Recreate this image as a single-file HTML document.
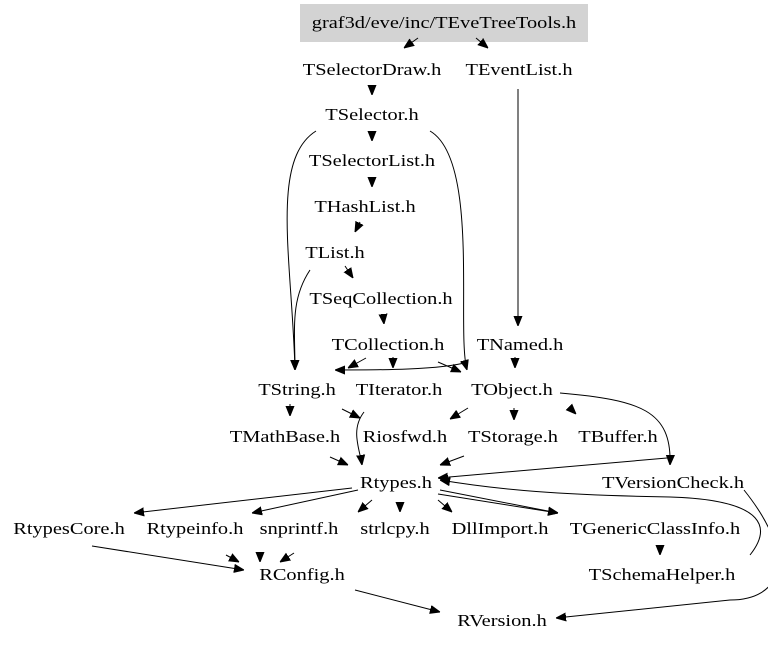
<!DOCTYPE html>
<html><head><meta charset="utf-8"><style>
html,body{margin:0;padding:0;background:#fff;width:768px;height:645px;overflow:hidden}
text{font-family:"Liberation Serif",serif;font-size:17px;fill:#000;text-anchor:middle}
path{fill:none;stroke:#000;stroke-width:1}
</style></head><body>
<svg width="768" height="645" viewBox="0 0 768 645" xmlns="http://www.w3.org/2000/svg">
<defs><marker id="a" viewBox="0 0 10 10" refX="10" refY="5" markerWidth="10" markerHeight="10" markerUnits="userSpaceOnUse" orient="auto"><path d="M0,1 L10,5 L0,9 Z" style="fill:#000;stroke:#000"/></marker></defs>
<rect x="300" y="4" width="288" height="38" fill="#d3d3d3"/>
<text transform="translate(444,28) scale(1.2,1)">graf3d/eve/inc/TEveTreeTools.h</text>
<text transform="translate(372,75) scale(1.2,1)">TSelectorDraw.h</text>
<text transform="translate(519,75) scale(1.2,1)">TEventList.h</text>
<text transform="translate(372,120) scale(1.2,1)">TSelector.h</text>
<text transform="translate(372,166) scale(1.2,1)">TSelectorList.h</text>
<text transform="translate(365,212) scale(1.2,1)">THashList.h</text>
<text transform="translate(335,258) scale(1.2,1)">TList.h</text>
<text transform="translate(381,304) scale(1.2,1)">TSeqCollection.h</text>
<text transform="translate(388,350) scale(1.2,1)">TCollection.h</text>
<text transform="translate(520,350) scale(1.2,1)">TNamed.h</text>
<text transform="translate(297,395) scale(1.2,1)">TString.h</text>
<text transform="translate(399,395) scale(1.2,1)">TIterator.h</text>
<text transform="translate(512,395) scale(1.2,1)">TObject.h</text>
<text transform="translate(285,442) scale(1.2,1)">TMathBase.h</text>
<text transform="translate(405,442) scale(1.2,1)">Riosfwd.h</text>
<text transform="translate(513,442) scale(1.2,1)">TStorage.h</text>
<text transform="translate(618,442) scale(1.2,1)">TBuffer.h</text>
<text transform="translate(396,488) scale(1.2,1)">Rtypes.h</text>
<text transform="translate(673,488) scale(1.2,1)">TVersionCheck.h</text>
<text transform="translate(69,534) scale(1.2,1)">RtypesCore.h</text>
<text transform="translate(195,534) scale(1.2,1)">Rtypeinfo.h</text>
<text transform="translate(299,534) scale(1.2,1)">snprintf.h</text>
<text transform="translate(395,534) scale(1.2,1)">strlcpy.h</text>
<text transform="translate(500,534) scale(1.2,1)">DllImport.h</text>
<text transform="translate(655,534) scale(1.2,1)">TGenericClassInfo.h</text>
<text transform="translate(302,580) scale(1.2,1)">RConfig.h</text>
<text transform="translate(662,580) scale(1.2,1)">TSchemaHelper.h</text>
<text transform="translate(502,626) scale(1.2,1)">RVersion.h</text>
<g marker-end="url(#a)">
<path d="M418,38 L404,48"/>
<path d="M476,38 L488,48"/>
<path d="M372,86 L372,95"/>
<path d="M372,131 L372,141"/>
<path d="M372,177 L372,187"/>
<path d="M360,222 L355,232"/>
<path d="M345,266 L353,278"/>
<path d="M383,314 L384,324"/>
<path d="M518,89 L518,326"/>
<path d="M316,131 C270,160 292,260 295,370"/>
<path d="M430,131 C480,160 456,330 467,370"/>
<path d="M310,270 C290,300 295,330 295,370"/>
<path d="M393,357 L393,368"/>
<path d="M366,358 L348,368"/>
<path d="M468,362 C440,370 380,370 335,370"/>
<path d="M438,362 L461,372"/>
<path d="M515,357 L515,368"/>
<path d="M290,404 L290,416"/>
<path d="M342,409 L360,418"/>
<path d="M364,412 C350,430 360,450 362,465"/>
<path d="M468,408 L450,419"/>
<path d="M514,408 L514,420"/>
<path d="M560,393 C640,400 672,410 670,465"/>
<path d="M572,410 L576,414"/>
<path d="M330,457 L348,465"/>
<path d="M464,456 L440,465"/>
<path d="M667,458 L438,478"/>
<path d="M352,488 L134,513"/>
<path d="M358,490 L252,513"/>
<path d="M372,500 L358,512"/>
<path d="M400,502 L400,512"/>
<path d="M438,500 L452,512"/>
<path d="M440,490 L558,513"/>
<path d="M438,494 L558,513"/>
<path d="M744,490 C800,560 780,600 730,600 L556,618"/>
<path d="M750,555 C770,530 770,500 670,497 C560,495 500,490 440,480"/>
<path d="M92,546 L244,570"/>
<path d="M226,555 L239,562"/>
<path d="M260,553 L260,562"/>
<path d="M294,553 L280,562"/>
<path d="M660,545 L660,555"/>
<path d="M355,590 L440,612"/>
</g>
</svg>
</body></html>
